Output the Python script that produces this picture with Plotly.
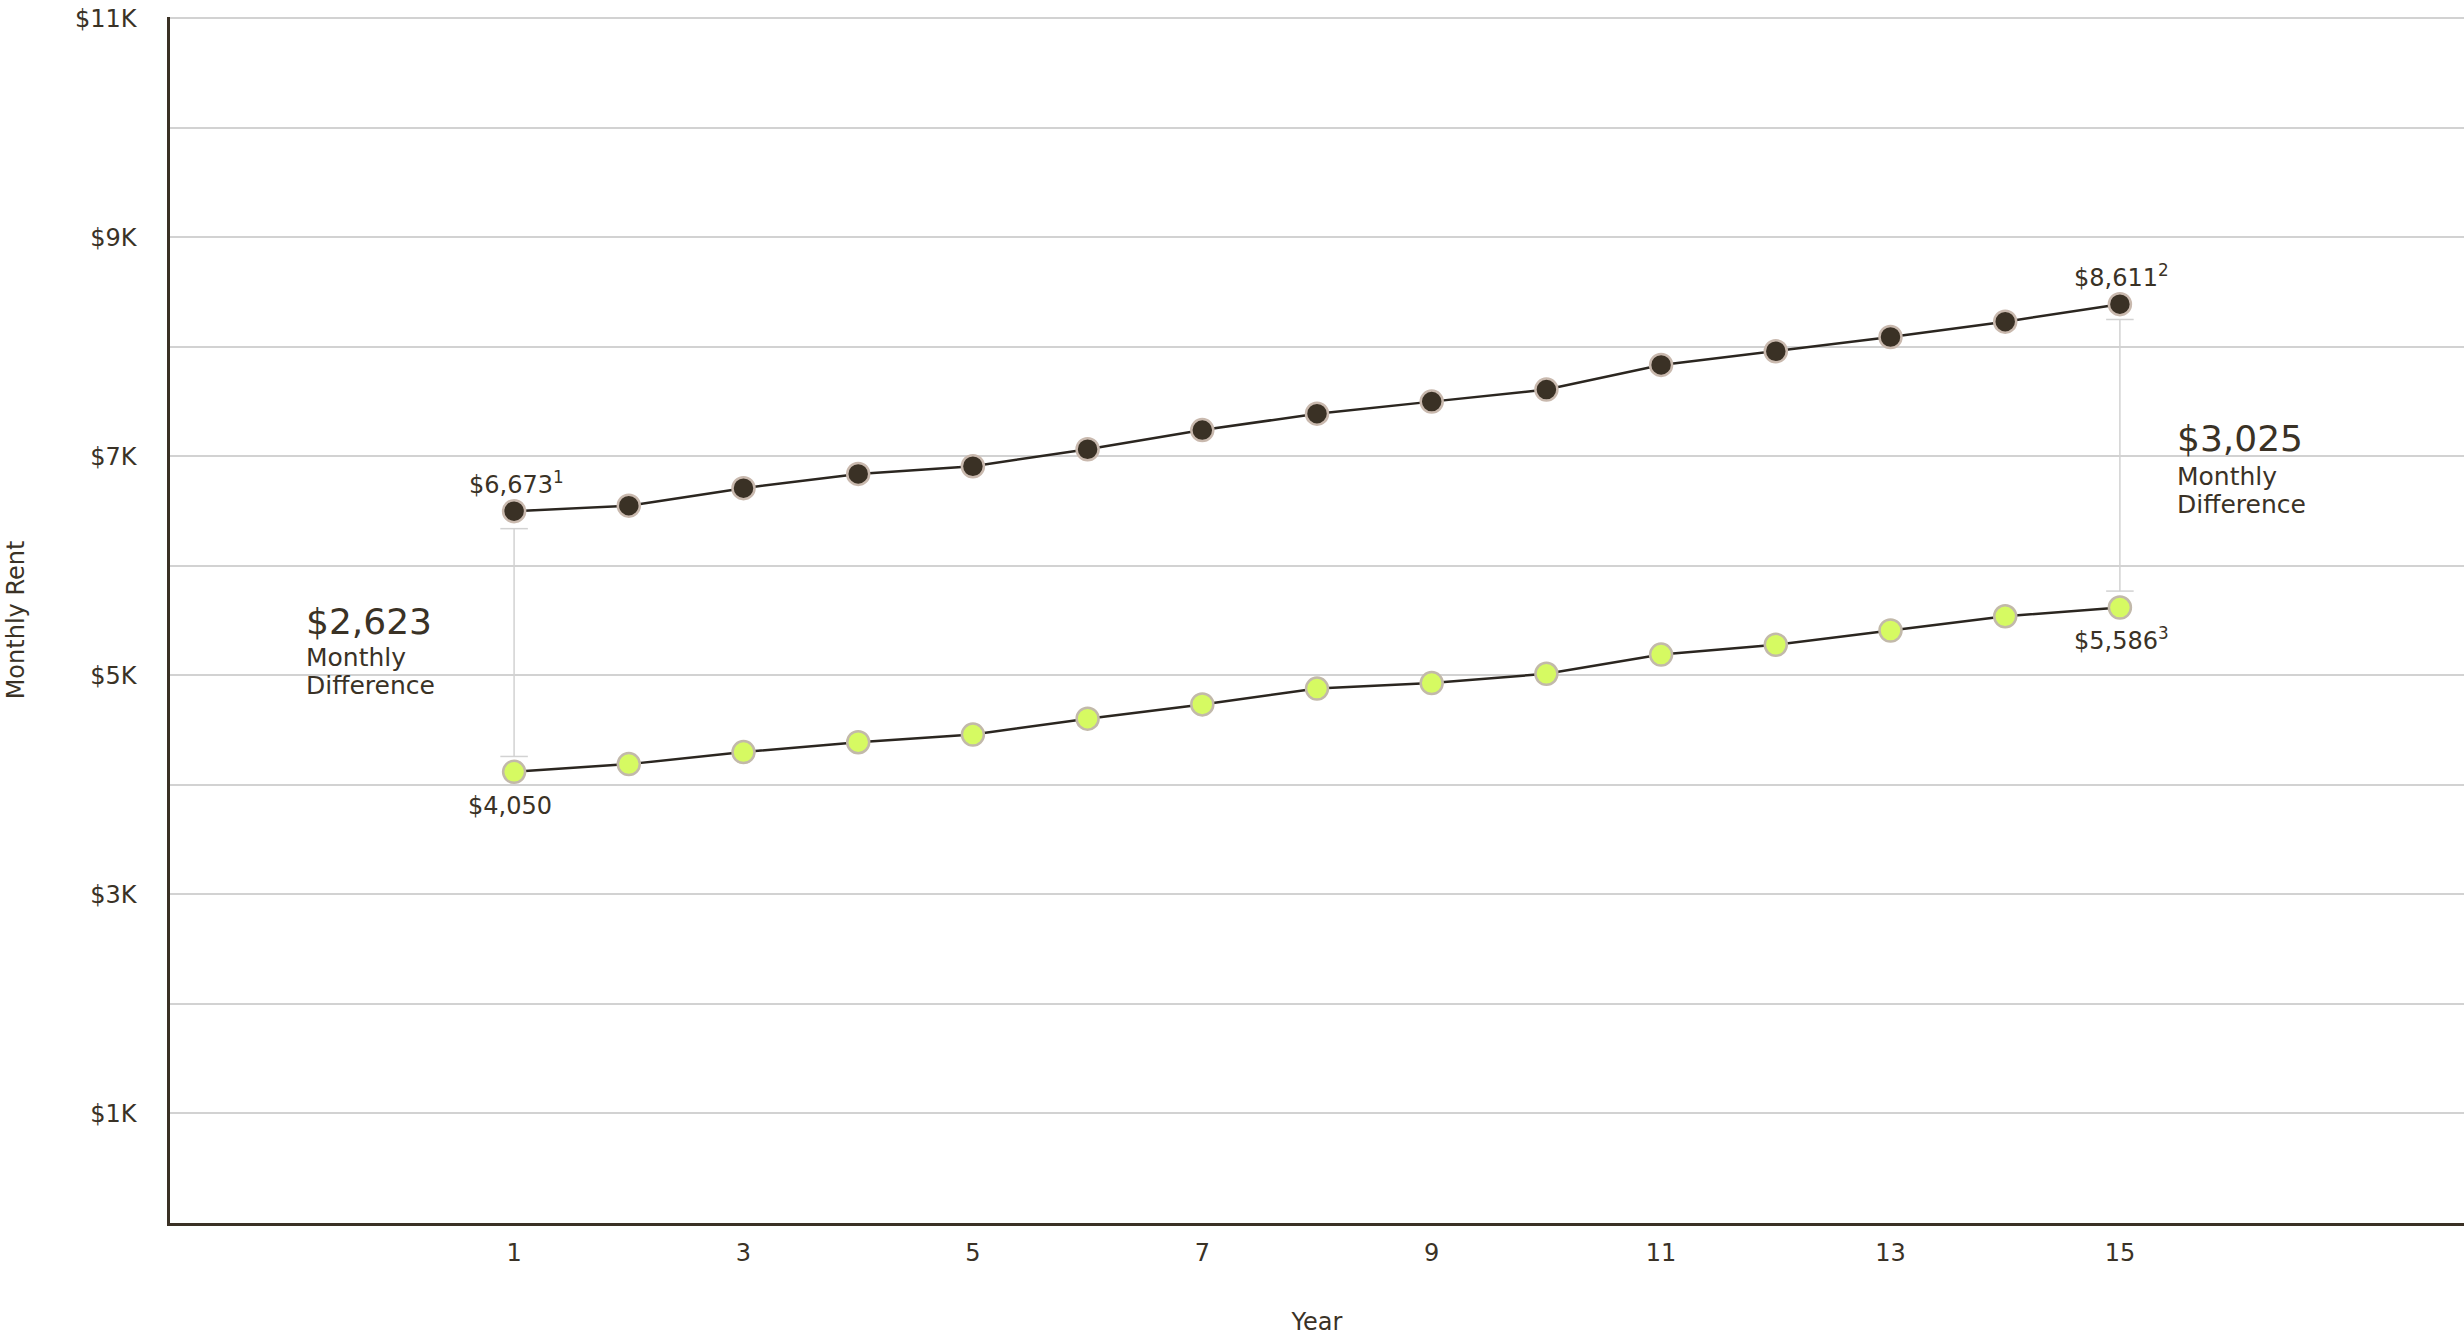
import plotly.graph_objects as go

# ---- data ----
years = list(range(1, 16))
rent_high = [6500, 6550, 6710, 6840, 6910, 7065, 7240, 7390, 7500, 7610, 7835, 7960, 8090, 8230, 8390]
rent_low = [4120, 4190, 4300, 4390, 4460, 4605, 4735, 4880, 4930, 5015, 5190, 5280, 5410, 5540, 5620]

x_ticks = [1, 3, 5, 7, 9, 11, 13, 15]
y_ticks = [1000, 3000, 5000, 7000, 9000, 11000]
y_ticktext = ["$1K", "$3K", "$5K", "$7K", "$9K", "$11K"]
y_minor_ticks = [2000, 4000, 6000, 8000, 10000]

start_high_label = "$6,673<sup>1</sup>"
end_high_label = "$8,611<sup>2</sup>"
start_low_label = "$4,050"
end_low_label = "$5,586<sup>3</sup>"

diff_left_value = "$2,623"
diff_right_value = "$3,025"
caption_line1 = "Monthly"
caption_line2 = "Difference"

# connector brackets: (x, top, bottom)
brackets = [(1, 6340, 4260), (15, 8250, 5770)]

# ---- style ----
FONT = "DejaVu Sans"
TXT = "#3a3226"
DARK = "#3a3125"
LIME = "#d6fa62"
LINE = "#2b2620"
GRID = "#d2d2d2"
FS = 24

fig = go.Figure()

fig.add_trace(go.Scatter(
    x=years, y=rent_high, mode="lines+markers",
    line=dict(color=LINE, width=2.5),
    marker=dict(size=22, color=DARK, line=dict(color="#c9b9ae", width=2.5)),
    showlegend=False, hoverinfo="skip"))

fig.add_trace(go.Scatter(
    x=years, y=rent_low, mode="lines+markers",
    line=dict(color=LINE, width=2.5),
    marker=dict(size=22, color=LIME, line=dict(color="#c2b9aa", width=2.5)),
    showlegend=False, hoverinfo="skip"))

shapes = []
for bx, top, bot in brackets:
    shapes.append(dict(type="line", xref="x", yref="y", x0=bx, x1=bx, y0=bot, y1=top,
                       line=dict(color=GRID, width=1.5), layer="below"))
    for yy in (top, bot):
        shapes.append(dict(type="line", xref="x", yref="y", x0=bx - 0.12, x1=bx + 0.12,
                           y0=yy, y1=yy, line=dict(color=GRID, width=1.5), layer="below"))

annotations = [
    dict(x=years[0], y=rent_high[0], text=start_high_label, yshift=28, xshift=2),
    dict(x=years[-1], y=rent_high[-1], text=end_high_label, yshift=28, xshift=2),
    dict(x=years[0], y=rent_low[0], text=start_low_label, yshift=-34, xshift=-4),
    dict(x=years[-1], y=rent_low[-1], text=end_low_label, yshift=-31, xshift=2),
]
for a in annotations:
    a.update(xref="x", yref="y", showarrow=False, xanchor="center", yanchor="middle",
             font=dict(family=FONT, size=FS, color=TXT))

big = [
    (-0.83, 5490, diff_left_value, 36),
    (-0.83, 5160, caption_line1, FS + 1),
    (-0.83, 4905, caption_line2, FS + 1),
    (15.48, 7160, diff_right_value, 36),
    (15.48, 6820, caption_line1, FS + 1),
    (15.48, 6565, caption_line2, FS + 1),
]
for bx, by, txt, fs in big:
    annotations.append(dict(x=bx, y=by, text=txt, xref="x", yref="y", showarrow=False,
                            xanchor="left", yanchor="middle", align="left",
                            font=dict(family=FONT, size=fs, color=TXT)))

fig.update_layout(
    width=2464, height=1336,
    margin=dict(l=170, r=0, t=17, b=113),
    paper_bgcolor="white", plot_bgcolor="white",
    font=dict(family=FONT, color=TXT, size=FS),
    shapes=shapes, annotations=annotations,
    xaxis=dict(range=[-2, 18], tickmode="array", tickvals=x_ticks, automargin=False,
               showgrid=False, zeroline=False, showline=True, linecolor=DARK, linewidth=2.5,
               ticks="", ticklabelstandoff=6,
               tickfont=dict(family=FONT, size=FS, color=TXT),
               title=dict(text="Year", standoff=48, font=dict(family=FONT, size=FS, color=TXT))),
    yaxis=dict(range=[0, 11012], tickmode="array", tickvals=y_ticks, ticktext=y_ticktext,
               automargin=False, ticklabeloverflow="allow",
               showgrid=True, gridcolor=GRID, gridwidth=1.5, zeroline=False,
               minor=dict(tickmode="array", tickvals=y_minor_ticks, showgrid=True,
                          gridcolor=GRID, gridwidth=1.5, ticks=""),
               showline=True, linecolor=DARK, linewidth=2.5, ticks="", ticklabelstandoff=26,
               tickfont=dict(family=FONT, size=FS, color=TXT),
               title=dict(text="Monthly Rent", standoff=44, font=dict(family=FONT, size=FS, color=TXT))),
)

fig.write_html("out.html", config={"displayModeBar": False},
               post_script="document.body.style.margin='0';")
